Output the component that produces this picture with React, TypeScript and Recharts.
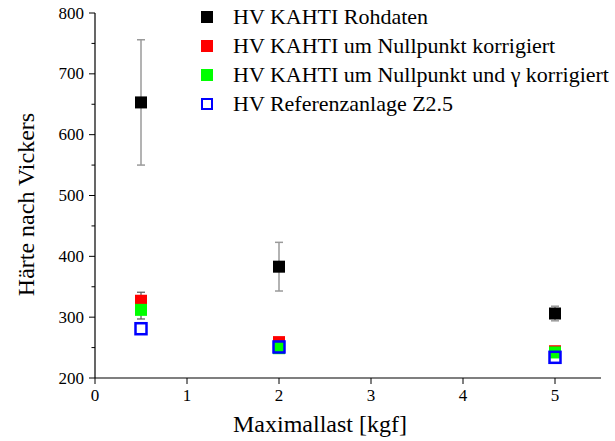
import React from 'react';
import { ScatterChart, Scatter, XAxis, YAxis, ErrorBar, Legend } from 'recharts';

// Maximum test load in kgf
const loads = [0.5, 2, 5];

// Vickers hardness per series (mean values and standard deviations)
const rawHV = [653, 383, 306];
const rawErr = [103, 40, 12];
const zeroCorrHV = [327, 259, 244];
const zeroCorrErr = [14, 5, 4];
const gammaCorrHV = [312, 249, 242];
const gammaCorrErr = [15, 4, 4];
const referenceHV = [281, 251, 234];

const xTicks = [0, 1, 2, 3, 4, 5];
const yTicks = [200, 250, 300, 350, 400, 450, 500, 550, 600, 650, 700, 750, 800];

const seriesNames = [
  'HV KAHTI Rohdaten',
  'HV KAHTI um Nullpunkt korrigiert',
  'HV KAHTI um Nullpunkt und γ korrigiert',
  'HV Referenzanlage Z2.5',
];

const FONT = "'Liberation Serif', 'Times New Roman', serif";

const toPoints = (ys: number[], errs?: number[]) =>
  loads.map((x, i) => ({ x, y: ys[i], err: errs ? errs[i] : 0 }));

const rawData = toPoints(rawHV, rawErr);
const zeroData = toPoints(zeroCorrHV, zeroCorrErr);
const gammaData = toPoints(gammaCorrHV, gammaCorrErr);
const refData = toPoints(referenceHV);

const filledSquare = (color: string) => (props: any) => {
  const { cx, cy } = props;
  return <rect x={cx - 6} y={cy - 6} width={12} height={12} fill={color} />;
};

const openSquare = (color: string) => (props: any) => {
  const { cx, cy } = props;
  return (
    <rect x={cx - 5.5} y={cy - 5.5} width={11} height={11} fill="none" stroke={color} strokeWidth={2.5} />
  );
};

// Left axis ticks: long marks with labels every 100, short minor marks in between
const YTick = (props: any) => {
  const { x, y, payload } = props;
  const major = payload.value % 100 === 0;
  return (
    <g>
      <line x1={x - (major ? 6 : 3.5)} y1={y} x2={x} y2={y} stroke="#000" strokeWidth={1} />
      {major && (
        <text x={x - 11} y={y} textAnchor="end" dominantBaseline="central" fontSize={17} fontFamily={FONT} fill="#000">
          {payload.value}
        </text>
      )}
    </g>
  );
};

const XTick = (props: any) => {
  const { x, y, payload } = props;
  return (
    <text x={x} y={y} dy="0.71em" textAnchor="middle" fontSize={17} fontFamily={FONT} fill="#000">
      {payload.value}
    </text>
  );
};

const legendMarkers = [
  { color: '#000000', open: false },
  { color: '#ff0000', open: false },
  { color: '#00ff00', open: false },
  { color: '#0000ff', open: true },
];

const LegendContent = () => (
  <div style={{ fontFamily: FONT, fontSize: 22, color: '#000' }}>
    {seriesNames.map((name, i) => (
      <div key={name} style={{ display: 'flex', alignItems: 'center', height: 29, whiteSpace: 'nowrap' }}>
        <span
          style={{
            display: 'inline-block',
            boxSizing: 'border-box',
            width: 12,
            height: 12,
            marginRight: 20,
            background: legendMarkers[i].open ? 'transparent' : legendMarkers[i].color,
            border: legendMarkers[i].open ? `2.5px solid ${legendMarkers[i].color}` : 'none',
          }}
        />
        <span>{name}</span>
      </div>
    ))}
  </div>
);

const YLabel = (props: any) => {
  const { viewBox } = props;
  const cx = viewBox.x + 26;
  const cy = viewBox.y + viewBox.height / 2 + 9;
  return (
    <text
      x={cx}
      y={cy}
      transform={`rotate(-90, ${cx}, ${cy})`}
      textAnchor="middle"
      dominantBaseline="central"
      fontSize={24}
      fontFamily={FONT}
      fill="#000"
    >
      Härte nach Vickers
    </text>
  );
};

const XLabel = (props: any) => {
  const { viewBox } = props;
  const cx = viewBox.x + viewBox.width / 2 - 28;
  return (
    <text x={cx} y={viewBox.y + 54} textAnchor="middle" fontSize={24} fontFamily={FONT} fill="#000">
      Maximallast [kgf]
    </text>
  );
};

export default function App() {
  return (
    <div style={{ position: 'absolute', left: 0, top: 0, background: '#fff', fontFamily: FONT }}>
      <ScatterChart width={615} height={441} margin={{ top: 13, right: 14, bottom: 0, left: 0 }}>
        <XAxis
          type="number"
          dataKey="x"
          domain={[0, 5.5]}
          ticks={xTicks}
          interval={0}
          allowDataOverflow
          height={63}
          axisLine={{ stroke: '#000', strokeWidth: 1.2 }}
          tickLine={{ stroke: '#000', strokeWidth: 1 }}
          tickSize={6}
          tickMargin={5}
          tick={<XTick />}
          label={<XLabel />}
        />
        <YAxis
          type="number"
          dataKey="y"
          domain={[200, 800]}
          ticks={yTicks}
          interval={0}
          allowDataOverflow
          width={95}
          axisLine={{ stroke: '#000', strokeWidth: 1.2 }}
          tickLine={false}
          tickSize={0}
          tickMargin={0}
          tick={<YTick />}
          label={<YLabel />}
        />
        <Legend
          layout="vertical"
          align="center"
          verticalAlign="middle"
          content={<LegendContent />}
          wrapperStyle={{ top: 2, left: 201, width: 414, height: 120 }}
        />
        <Scatter name={seriesNames[0]} data={rawData} shape={filledSquare('#000000')} isAnimationActive={false}>
          <ErrorBar dataKey="err" direction="y" width={4} stroke="#9a9a9a" strokeWidth={1.5} />
        </Scatter>
        <Scatter name={seriesNames[1]} data={zeroData} shape={filledSquare('#ff0000')} isAnimationActive={false}>
          <ErrorBar dataKey="err" direction="y" width={4} stroke="#555" strokeWidth={1.2} />
        </Scatter>
        <Scatter name={seriesNames[2]} data={gammaData} shape={filledSquare('#00ff00')} isAnimationActive={false}>
          <ErrorBar dataKey="err" direction="y" width={4} stroke="#555" strokeWidth={1.2} />
        </Scatter>
        <Scatter name={seriesNames[3]} data={refData} shape={openSquare('#0000ff')} isAnimationActive={false} />
      </ScatterChart>
    </div>
  );
}
